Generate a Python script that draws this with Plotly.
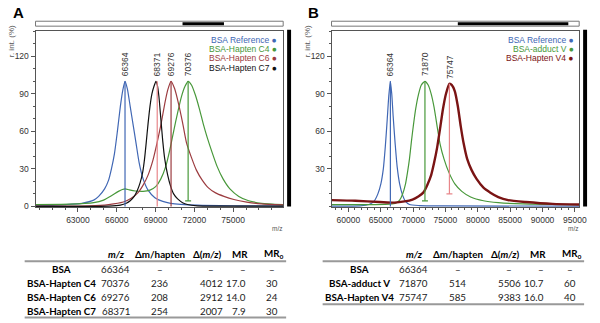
import plotly.graph_objects as go

# ---------------- Panel A spectra (axis m/z, relative intensity %) ----------------
a_ref_mz = [59720, 62080, 63310, 64220, 64600, 65060, 65370, 65590, 65820, 66050, 66280, 66470, 66640,
            66820, 67040, 67270, 67500, 67730, 68040, 68420, 68950, 69560, 70170, 72230, 75280, 78870]
a_ref_int = [0.5, 1.5, 2.5, 5, 8, 14, 21, 30, 42, 60, 80, 93, 100,
             94, 80, 65, 50, 35, 22, 13, 7, 4, 2.5, 1, 0.5, 0.3]

a_c4_mz = [59720, 62310, 64220, 64980, 65590, 66130, 66430, 66660, 66970, 67430, 68040, 68570, 69030,
           69410, 69790, 70100, 70400, 70710, 71010, 71280, 71520, 71780, 72080, 72390, 72690, 73000,
           73380, 73760, 74220, 74750, 75440, 76200, 77190, 78870]
a_c4_int = [1.5, 1.8, 3, 5, 8.5, 12, 13.5, 14, 13.2, 12.3, 12, 13, 16,
            22, 32, 45, 60, 75, 88, 96, 100, 97, 89, 78, 66, 55,
            43, 32, 22, 14, 8, 4.5, 2.5, 1.5]

a_c6_mz = [59720, 63840, 65370, 66510, 67120, 67650, 68040, 68420, 68800, 69100, 69410, 69710, 69940,
           70200, 70480, 70780, 71090, 71390, 71780, 72160, 72610, 73070, 73610, 74290, 75060, 76050,
           77190, 78870]
a_c6_int = [0.3, 0.5, 1.5, 3.5, 6.5, 11, 17, 25, 37, 50, 65, 82, 93,
            100, 94, 82, 67, 51, 39, 29, 21, 15, 11, 8, 5.5, 3.5,
            2, 1.2]

a_c7_mz = [59720, 65370, 66280, 66740, 67040, 67350, 67580, 67810, 68000, 68150, 68270, 68420, 68570,
           68720, 68880, 69030, 69140, 69260, 69410, 69560, 69710, 69940, 70170, 70400, 70710, 71090,
           71470, 72230, 78870]
a_c7_int = [0, 0.3, 1, 2.5, 4.5, 8, 12.5, 19, 27, 38, 50, 66, 80,
            90, 96, 100, 97, 88, 70, 52, 38, 25, 16, 10, 6, 3,
            1.5, 0.5, 0.2]

a_peak_labels = ["66364", "68371", "69276", "70376"]
a_peak_mz = [66640, 69130, 70200, 71520]
a_peak_int = [100, 100, 100, 100]
a_marker_base = [0, 0, 0, 4.5]

a_legend = ["BSA Reference", "BSA-Hapten C4", "BSA-Hapten C6", "BSA-Hapten C7"]
a_xticks = [63000, 66000, 69000, 72000, 75000]
a_yticks = [0, 30, 60, 90, 120]

# ---------------- Panel B spectra ----------------
b_ref_mz = [57410, 61830, 63200, 63960, 64570, 65030, 65410, 65720, 66020, 66250, 66500, 66710, 66930,
            67240, 67540, 67930, 68380, 68840, 69450, 70970, 74780, 95660]
b_ref_int = [0.3, 0.5, 1.5, 4, 10, 18, 30, 48, 70, 88, 100, 90, 72,
             50, 32, 18, 9, 4, 1.5, 0.7, 0.4, 0.2]

b_v_mz = [57410, 64120, 66400, 67320, 67930, 68380, 68840, 69140, 69450, 69750, 70060, 70410, 70820,
          71280, 71840, 72340, 72800, 73260, 73720, 74170, 74780, 75550, 76460, 77530, 78900, 80880,
          83170, 86980, 95660]
b_v_int = [1.5, 1.5, 1.8, 2.5, 5, 9.7, 18, 27, 38, 52, 65, 78, 89,
           97, 100, 97, 90, 79, 64, 50, 38, 27, 18, 12, 7.5, 4.5,
           3, 2, 1.5]

b_v4_mz = [57410, 61070, 64880, 67160, 68690, 69910, 70820, 71580, 72190, 72800, 73260, 73720, 74170,
           74630, 75090, 75620, 76000, 76460, 76920, 77370, 77830, 78360, 79050, 79810, 80880, 81950,
           83170, 84690, 87430, 91550, 95660]
b_v4_int = [5, 4.5, 3.5, 3, 4, 5.5, 8, 11, 17, 25, 35, 47, 62,
            78, 90, 98, 97, 92, 80, 64, 50, 38, 29, 22, 15, 11,
            7.5, 5, 3.5, 2, 1.5]

b_peak_labels = ["66364", "71870", "75747"]
b_peak_mz = [66500, 71840, 75620]
b_peak_int = [100, 100, 98]
b_marker_base = [0, 4.5, 10]

b_legend = ["BSA Reference", "BSA-adduct V", "BSA-Hapten V4"]
b_xticks = [60000, 65000, 70000, 75000, 80000, 85000, 90000, 95000]
b_yticks = [30, 60, 90, 120]

# ---------------- Tables ----------------
table_header = ["<b><i>m/z</i></b>", "<b>\u0394m/hapten</b>", "<b>\u0394(<i>m/z</i>)</b>", "<b>MR</b>",
                "<b>MR<sub>o</sub></b>"]

ta_rows = ["BSA", "BSA-Hapten C4", "BSA-Hapten C6", "BSA-Hapten C7"]
ta_mz = ["66364", "70376", "69276", "68371"]
ta_dm = ["\u2013", "236", "208", "254"]
ta_dmz = ["\u2013", "4012", "2912", "2007"]
ta_mr = ["\u2013", "17.0", "14.0", "7.9"]
ta_mro = ["\u2013", "30", "24", "30"]

tb_rows = ["BSA", "BSA-adduct V", "BSA-Hapten V4"]
tb_mz = ["66364", "71870", "75747"]
tb_dm = ["\u2013", "514", "585"]
tb_dmz = ["\u2013", "5506", "9383"]
tb_mr = ["\u2013", "10.7", "16.0"]
tb_mro = ["\u2013", "60", "40"]

# ---------------- styling ----------------
W, H = 600, 323
NARROW = "Liberation Sans Narrow, Arial Narrow, Liberation Sans, Arial"
TFONT = "Lato, Carlito, Calibri, sans-serif"
TSIZE = 9.8
BLUE = "#4067b4"
GREEN = "#48983a"
RED = "#9c3c40"
BLACK = "#111111"
SALMON = "#e8868a"
MAROON = "#7a1414"


def px(x):
    return x / W


def py(y):
    return 1 - y / H


fig = go.Figure()


def curve(xs, ys, color, xa, ya, width=1.2):
    fig.add_trace(go.Scatter(x=xs, y=ys, mode="lines", xaxis=xa, yaxis=ya,
                             line=dict(color=color, width=width, shape="spline", smoothing=0.6),
                             hoverinfo="skip", showlegend=False))


def marker(xm, top, base, color, xa, ya, capw):
    fig.add_trace(go.Scatter(x=[xm, xm], y=[base, top], mode="lines", xaxis=xa, yaxis=ya,
                             line=dict(color=color, width=1.2), hoverinfo="skip", showlegend=False))
    if base > 0:
        fig.add_trace(go.Scatter(x=[xm - capw, xm + capw], y=[base, base], mode="lines", xaxis=xa, yaxis=ya,
                                 line=dict(color=color, width=1.2), hoverinfo="skip", showlegend=False))


# Panel A
curve(a_ref_mz, a_ref_int, BLUE, "x", "y")
curve(a_c4_mz, a_c4_int, GREEN, "x", "y")
curve(a_c6_mz, a_c6_int, RED, "x", "y")
curve(a_c7_mz, a_c7_int, BLACK, "x", "y")
a_marker_colors = [BLUE, SALMON, RED, GREEN]
for m, t, b, c in zip(a_peak_mz, a_peak_int, a_marker_base, a_marker_colors):
    marker(m, t, b, c, "x", "y", 230)

# Panel B
curve(b_ref_mz, b_ref_int, BLUE, "x2", "y2")
curve(b_v_mz, b_v_int, GREEN, "x2", "y2")
curve(b_v4_mz, b_v4_int, MAROON, "x2", "y2", width=2.4)
b_marker_colors = [BLUE, GREEN, SALMON]
for m, t, b, c in zip(b_peak_mz, b_peak_int, b_marker_base, b_marker_colors):
    marker(m, t, b, c, "x2", "y2", 460)

axis_common = dict(showline=True, linecolor="#555", linewidth=1, mirror=True, ticks="outside",
                   ticklen=4, tickcolor="#555", tickwidth=1, showgrid=False, zeroline=False,
                   tickfont=dict(family=NARROW, size=8.5, color="#333"), tickformat="d",
                   fixedrange=True)
ydom = [py(210), py(31)]
fig.update_layout(
    width=W, height=H, margin=dict(l=0, r=0, t=0, b=0),
    paper_bgcolor="white", plot_bgcolor="white", showlegend=False,
    xaxis=dict(domain=[px(36), px(287)], range=[59719, 78870], tickmode="array", tickvals=a_xticks,
               minor=dict(tickmode="linear", tick0=0, dtick=1000, ticklen=2, tickcolor="#555", ticks="outside"),
               anchor="y", **axis_common),
    yaxis=dict(domain=ydom, range=[-0.79, 140.5], tickmode="array", tickvals=a_yticks,
               minor=dict(tickmode="linear", tick0=0, dtick=10, ticklen=2, tickcolor="#555", ticks="outside"),
               anchor="x", **axis_common),
    xaxis2=dict(domain=[px(336), px(587)], range=[57409, 95662], tickmode="array", tickvals=b_xticks,
                minor=dict(tickmode="linear", tick0=0, dtick=1000, ticklen=2, tickcolor="#555", ticks="outside"),
                anchor="y2", **axis_common),
    yaxis2=dict(domain=ydom, range=[-0.79, 140.5], tickmode="array", tickvals=b_yticks,
                minor=dict(tickmode="linear", tick0=0, dtick=10, ticklen=2, tickcolor="#555", ticks="outside"),
                anchor="x2", **axis_common),
)

shapes = []
ann = []


def text(x, y, s, size, color, family, xanchor="center", yanchor="middle", angle=0):
    ann.append(dict(x=x, y=y, xref="paper", yref="paper", text=s, showarrow=False, xanchor=xanchor,
                    yanchor=yanchor, textangle=angle, font=dict(family=family, size=size, color=color)))


for off, (b0, b1) in zip([0, 300], [(185, 227), (464, 576)]):
    # overview bar on top
    shapes.append(dict(type="rect", xref="paper", yref="paper", x0=px(36 + off), x1=px(287 + off),
                       y0=py(26.5), y1=py(21.5), line=dict(color="#777", width=1), fillcolor="white"))
    shapes.append(dict(type="rect", xref="paper", yref="paper", x0=px(b0), x1=px(b1),
                       y0=py(25.5), y1=py(22.5), line=dict(width=0), fillcolor="black"))
    # vertical black bar on right
    shapes.append(dict(type="rect", xref="paper", yref="paper", x0=px(291 + off), x1=px(295 + off),
                       y0=py(209), y1=py(30), line=dict(width=0), fillcolor="black"))
    # axis titles
    text(px(12 + off), py(42), "r. int. (%)", 8, "#555", NARROW, angle=-90)
    text(px(281 + off), py(231), "m/z", 6.5, "#555", NARROW)

text(px(19), py(12.5), "<b>A</b>", 15, "black", "Liberation Sans, Arial")
text(px(318), py(12.5), "<b>B</b>", 15, "black", "Liberation Sans, Arial")

# peak labels
for lab, m, t in zip(a_peak_labels, a_peak_mz, a_peak_int):
    ann.append(dict(x=m, y=t + 2.5, xref="x", yref="y", text=lab, textangle=-90, showarrow=False,
                    xanchor="center", yanchor="bottom", font=dict(family=NARROW, size=8.5, color="#333")))
for lab, m, t in zip(b_peak_labels, b_peak_mz, b_peak_int):
    ann.append(dict(x=m, y=t + 2.5, xref="x2", yref="y2", text=lab, textangle=-90, showarrow=False,
                    xanchor="center", yanchor="bottom", font=dict(family=NARROW, size=8.5, color="#333")))

# legends
a_leg_colors = [BLUE, GREEN, RED, BLACK]
for i, (lab, c) in enumerate(zip(a_legend, a_leg_colors)):
    text(px(283), py(40 + 9.6 * i), lab + " \u25cf", 8.5, c, NARROW, xanchor="right")
b_leg_colors = [BLUE, GREEN, MAROON]
for i, (lab, c) in enumerate(zip(b_legend, b_leg_colors)):
    text(px(584), py(40 + 9.6 * i), lab + " \u25cf", 8.5, c, NARROW, xanchor="right")


# tables
def table(off, rows, cols, bottom_y):
    hx = [118, 162, 210, 243, 278]
    for h, x in zip(table_header, hx):
        text(px(x + off), py(257), h, TSIZE, "black", TFONT)
    cx = [(117.5, "center"), (162, "center"), (214, "center"), (251, "right"), (276, "center")]
    for i, r in enumerate(rows):
        yy = py(272 + 14.4 * i)
        text(px(62 + off), yy, "<b>" + r + "</b>", TSIZE, "black", TFONT)
        for col, (x, anc) in zip(cols, cx):
            text(px(x + off), yy, col[i], TSIZE, "#222", TFONT, xanchor=anc)
    shapes.append(dict(type="line", xref="paper", yref="paper", x0=px(25 + off), x1=px(290 + off),
                       y0=py(264.5), y1=py(264.5), line=dict(color="#999", width=2)))
    shapes.append(dict(type="line", xref="paper", yref="paper", x0=px(25 + off), x1=px(290 + off),
                       y0=py(bottom_y), y1=py(bottom_y), line=dict(color="#999", width=2)))


table(0, ta_rows, [ta_mz, ta_dm, ta_dmz, ta_mr, ta_mro], 321.5)
table(302, tb_rows, [tb_mz, tb_dm, tb_dmz, tb_mr, tb_mro], 308)

fig.update_layout(shapes=shapes, annotations=ann)
fig.write_html("out.html")
